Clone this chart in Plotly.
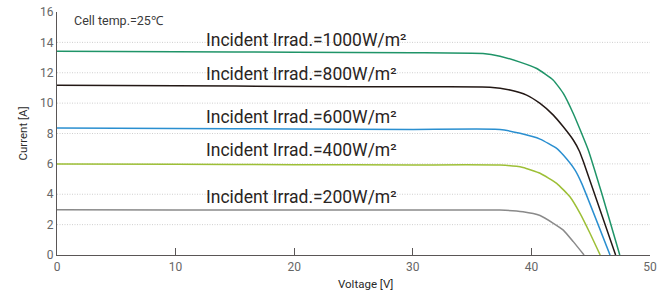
import plotly.graph_objects as go

# ---- data (voltage [V], current [A]) ----
v_1000 = [0, 10, 20, 30, 35.92, 37.35, 39.04, 40.45, 41.85, 42.69, 43.53, 44.24, 44.8, 45.93, 47.45]
i_1000 = [13.42, 13.38, 13.35, 13.32, 13.27, 13.09, 12.70, 12.28, 11.51, 10.64, 9.32, 8.0, 6.9, 4.06, 0]

v_800 = [0, 10, 20, 30, 36.51, 38.2, 39.6, 40.73, 41.85, 42.69, 43.53, 44.04, 44.38, 47.1]
i_800 = [11.18, 11.14, 11.10, 11.07, 11.05, 10.86, 10.53, 9.98, 9.21, 8.44, 7.57, 6.85, 6.15, 0]

v_600 = [0, 10, 20, 30, 37.35, 39.04, 40.73, 42.13, 42.69, 43.68, 44.24, 46.63]
i_600 = [8.36, 8.33, 8.30, 8.27, 8.27, 8.01, 7.63, 7.02, 6.58, 5.59, 4.72, 0]

v_400 = [0, 10, 20, 30, 37.35, 39.29, 40.73, 42.13, 43.25, 44.1, 44.94, 45.8]
i_400 = [5.99, 5.97, 5.95, 5.93, 5.92, 5.76, 5.38, 4.72, 3.83, 2.74, 1.43, 0]

v_200 = [0, 10, 20, 30, 37.35, 39.29, 40.73, 41.85, 42.69, 43.53, 44.44]
i_200 = [2.98, 2.97, 2.97, 2.96, 2.96, 2.85, 2.60, 2.09, 1.64, 0.88, 0]

series_names = ["Incident Irrad.=1000W/m²", "Incident Irrad.=800W/m²", "Incident Irrad.=600W/m²",
                "Incident Irrad.=400W/m²", "Incident Irrad.=200W/m²"]
series_v = [v_1000, v_800, v_600, v_400, v_200]
series_i = [i_1000, i_800, i_600, i_400, i_200]
colors = ["#1f9468", "#231815", "#2a8fd0", "#9dbf36", "#8a8a8a"]
label_y = [14.14, 11.95, 9.1, 6.91, 3.84]   # label anchor currents

x_ticks = [0, 10, 20, 30, 40, 50]
x_minor = [10, 20, 30, 40]
y_ticks = [0, 2, 4, 6, 8, 10, 12, 14, 16]
y_grid = [2, 4, 6, 8, 10, 12, 14]

FONT = "Roboto"
fig = go.Figure()
for v, i, c in zip(series_v, series_i, colors):
    fig.add_trace(go.Scatter(x=v, y=i, mode="lines",
                             line=dict(color=c, width=1.5, shape="spline", smoothing=0.45),
                             showlegend=False, hoverinfo="skip"))

shapes = [dict(type="line", xref="paper", yref="y", x0=0, x1=1, y0=g, y1=g,
               line=dict(color="#cfcfcf", width=1, dash="1px,1.5px"), layer="below") for g in y_grid]

annotations = []
for name, ly in zip(series_names, label_y):
    annotations.append(dict(text=name, xref="paper", yref="y", x=0.248, y=ly,
                            xanchor="left", yanchor="middle", showarrow=False,
                            font=dict(family=FONT, size=17.5, color="#2a2523")))
annotations.append(dict(text="Cell temp.=25℃", xref="paper", yref="y", x=0.025, y=15.41,
                        xanchor="left", yanchor="middle", showarrow=False,
                        font=dict(family=FONT, size=12.5, color="#3a3a3a")))
annotations.append(dict(text="Current [A]", xref="paper", yref="paper", x=-0.059, y=0.5,
                        xanchor="center", yanchor="middle", textangle=-90, showarrow=False,
                        font=dict(family=FONT, size=11.5, color="#2a2a2a")))
annotations.append(dict(text="Voltage [V]", xref="paper", yref="paper", x=0.521, y=-0.119,
                        xanchor="center", yanchor="middle", showarrow=False,
                        font=dict(family=FONT, size=11.5, color="#2a2a2a")))

fig.update_layout(
    template="none",
    width=670, height=292,
    margin=dict(l=57, r=20, t=12, b=37, pad=0, autoexpand=False),
    paper_bgcolor="white", plot_bgcolor="white",
    shapes=shapes, annotations=annotations,
    xaxis=dict(range=[0, 50], tickmode="array", tickvals=x_ticks, ticks="", automargin=False,
               showgrid=False, zeroline=False, showline=True, linecolor="#5a5656", linewidth=1.4,
               tickfont=dict(family=FONT, size=12, color="#666666"),
               minor=dict(tickmode="array", tickvals=x_minor, ticks="inside", ticklen=7,
                          tickwidth=1.4, tickcolor="#5a5656", showgrid=False),
               fixedrange=True),
    yaxis=dict(range=[0, 16], tickmode="array", tickvals=y_ticks, ticks="", automargin=False,
               showgrid=False, zeroline=False, showline=True, linecolor="#5a5656", linewidth=1.4,
               tickfont=dict(family=FONT, size=12, color="#666666"), ticklabelstandoff=0,
               fixedrange=True),
)

fig.write_html("out.html", config={"displayModeBar": False},
               post_script="document.body.style.margin='0px';document.body.style.overflow='hidden';")
